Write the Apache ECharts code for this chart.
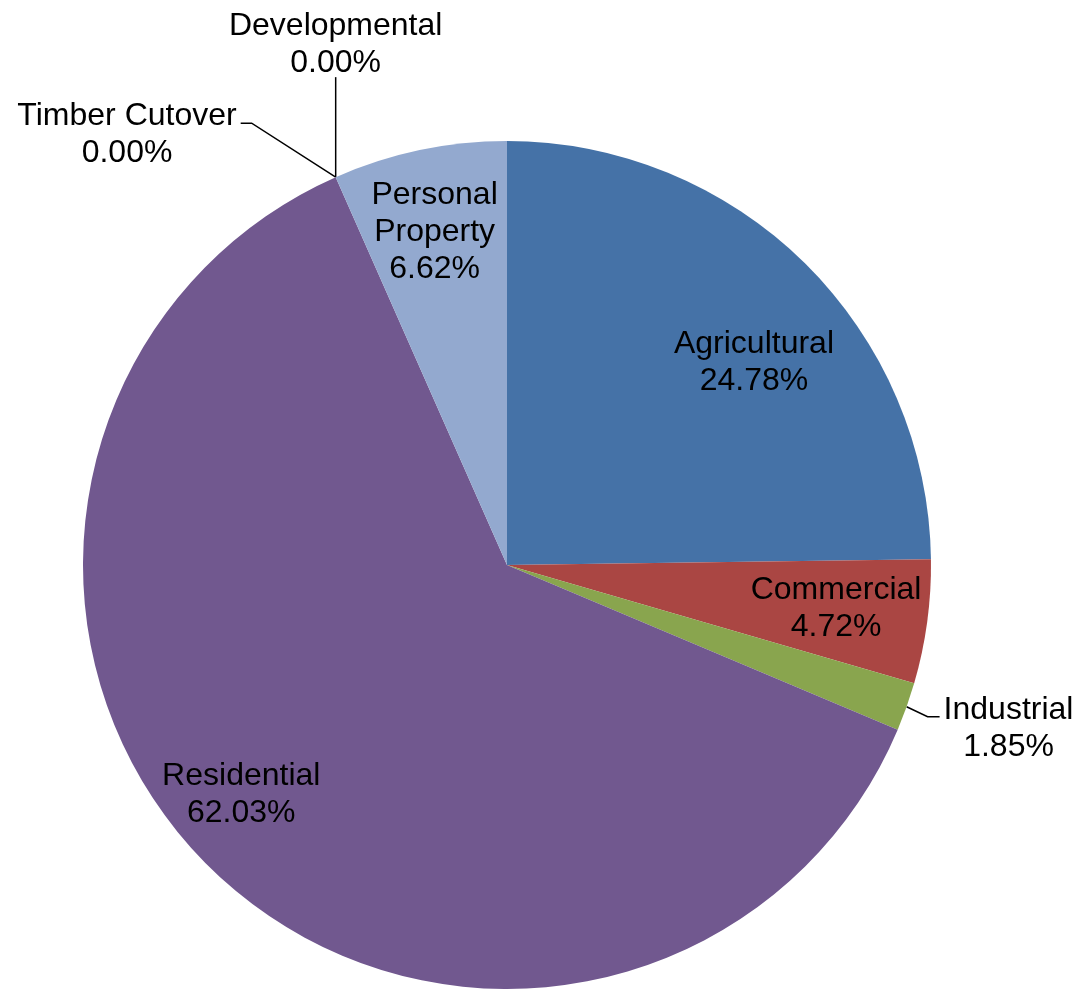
<!DOCTYPE html>
<html><head><meta charset="utf-8">
<script src="https://cdn.jsdelivr.net/npm/echarts@6/dist/echarts.min.js"></script>
<style>html,body{margin:0;padding:0;background:#fff}#c{width:1079px;height:997px}</style>
</head><body><div id="c"></div>
<script>
const categories = ['Agricultural','Commercial','Industrial','Residential','Timber Cutover','Developmental','Personal Property'];
const labelNames = ['Agricultural','Commercial','Industrial','Residential','Timber Cutover','Developmental','Personal\nProperty'];
const shares = [24.78, 4.72, 1.85, 62.03, 0.00, 0.00, 6.62];
const colors = ['#4572A7','#AA4643','#89A54E','#71588F','#4198AF','#DB843D','#93A9CF'];
const outsideItems = [2, 4, 5];

// style: shifts of inside labels from library default position
const insideShift = {0:[96,-49], 1:[116,15], 3:[-115,76], 6:[-28,-122]};

const chart = echarts.init(document.getElementById('c'), null, {renderer:'canvas'});
const data = categories.map((c, i) => ({
  name: c,
  value: shares[i],
  itemStyle: {color: colors[i]},
  label: {position: outsideItems.includes(i) ? 'outside' : 'inside'},
  labelLine: {show: outsideItems.includes(i)}
}));

chart.setOption({
  animation: false,
  series: [{
    type: 'pie',
    center: [507, 565],
    radius: 424,
    startAngle: 90,
    clockwise: true,
    avoidLabelOverlap: false,
    data: data,
    itemStyle: {borderWidth: 0},
    emphasis: {disabled: true},
    label: {
      show: true,
      color: '#000',
      fontFamily: 'Liberation Sans, Arial, sans-serif',
      fontSize: 32,
      lineHeight: 37,
      align: 'center',
      formatter: p => labelNames[p.dataIndex] + '\n' + p.value.toFixed(2) + '%'
    },
    labelLine: {
      show: true,
      length: 20,
      length2: 12,
      lineStyle: {color: '#000', width: 1.5}
    },
    labelLayout: function (p) {
      const i = p.dataIndex;
      if (insideShift[i]) return {dx: insideShift[i][0], dy: insideShift[i][1]};
      const p0 = p.labelLinePoints[0];
      const w = p.labelRect.width;
      if (i === 2) {
        const p1 = [p0[0] + 21, p0[1] + 10];
        const p2 = [p1[0] + 12, p1[1]];
        return {x: p2[0] + 4 + w / 2, y: p2[1] + 12, align: 'center', verticalAlign: 'middle', labelLinePoints: [p0, p1, p2]};
      }
      if (i === 4) {
        const p1 = [p0[0] - 84, p0[1] - 54];
        const p2 = [p1[0] - 11, p1[1]];
        return {x: p2[0] - 4 - w / 2, y: p2[1] + 12, align: 'center', verticalAlign: 'middle', labelLinePoints: [p0, p1, p2]};
      }
      if (i === 5) {
        const p1 = [p0[0], p0[1] - 100];
        return {x: p1[0], y: p1[1] - 32, align: 'center', verticalAlign: 'middle', labelLinePoints: [p0, p1, p1]};
      }
    }
  }]
});
</script></body></html>
